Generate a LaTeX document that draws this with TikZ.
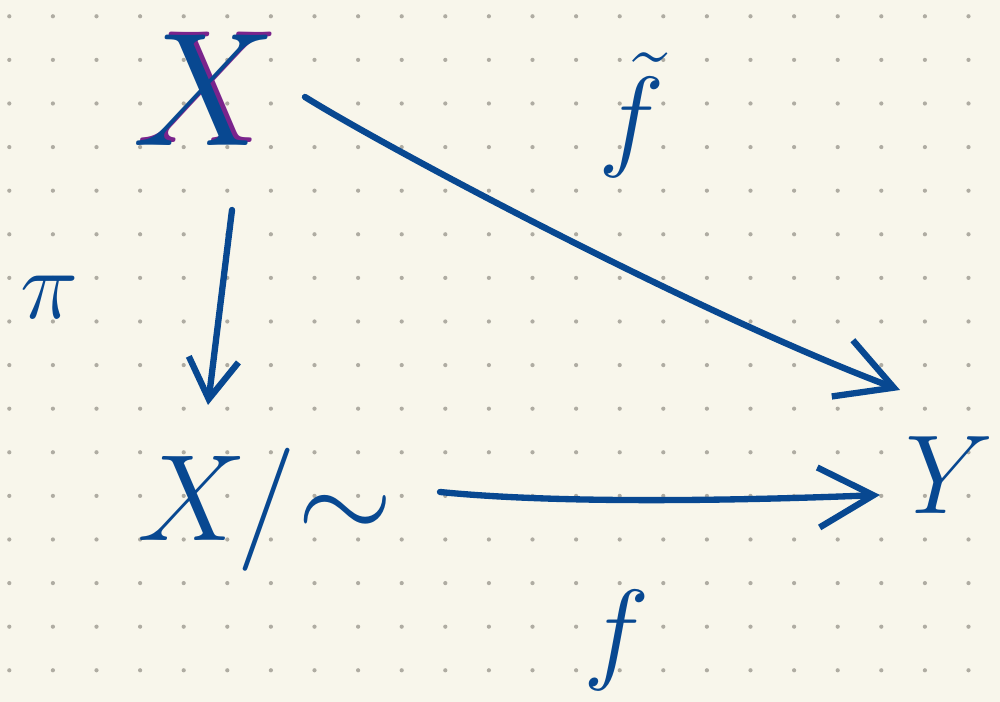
\RequirePackage{fix-cm}
\documentclass[tikz,border=0pt]{standalone}
\usepackage{amsmath}
\usepackage{xcolor}
\definecolor{paper}{RGB}{248, 246, 235}
\definecolor{gridDot}{RGB}{175, 172, 162}
\definecolor{ink}{RGB}{8, 72, 145}
\definecolor{inkPurple}{RGB}{122, 36, 140}
\usetikzlibrary{arrows.meta, positioning}

\begin{document}
\begin{tikzpicture}[
  obj/.style={text=ink, inner sep=0pt, font=\fontsize{92}{92}\selectfont},
  lbl/.style={text=ink, inner sep=0pt, font=\fontsize{64}{64}\selectfont},
  arr/.style={draw=ink, line width=3.6pt, line cap=round, line join=round,
              -{Straight Barb[length=1.1cm, width=1.2cm, line width=3.6pt]}},
  griddot/.style={fill=gridDot, draw=none}]

  % ---- Paper ----
  \fill[paper] (0,0) rectangle (20,14.04);
  \useasboundingbox (0,0) rectangle (20,14.04);
  \foreach \i in {0,...,22}
    \foreach \j in {0,...,15}
      \fill[griddot] (0.186+0.872*\i, 13.714-0.872*\j) circle (0.042);

  % ---- Objects ----
  \node[obj, text=inkPurple] (Xshade) at (4.18,12.3) {$X$};
  \node[obj] (X)  at (4.1,12.24) {$X$};
  \node[obj, font=\fontsize{70}{70}\selectfont] (Xq) at (5.3,3.84) {$X/{\sim}$};
  \node[obj, font=\fontsize{64}{64}\selectfont] (Y)  at (19.0,4.54) {$Y$};

  % ---- Labels ----
  \node[lbl] (ftilde) at (12.64,11.74) {$\tilde{f}$};
  \node[lbl] (f)      at (12.34,1.24)  {$f$};
  \node[lbl, font=\fontsize{56}{56}\selectfont] (pi) at (1.0,8.1) {$\pi$};

  % ---- Arrows ----
  \draw[arr, -{Straight Barb[length=0.8cm, width=1.0cm, line width=3.6pt]}]
    ([shift={(0.54,-2.4)}]X.center) -- ([shift={(-1.14,2.1)}]Xq.center);
  \draw[arr] ([shift={(2.0,-0.14)}]X.center)
    .. controls +(1.6,-1.0) and +(-4.0,1.5) .. ([shift={(-1.0,1.7)}]Y.center);
  \draw[arr] ([shift={(3.5,0.36)}]Xq.center)
    .. controls +(2.5,-0.25) and +(-2.5,-0.1) .. ([shift={(-1.4,-0.4)}]Y.center);

\end{tikzpicture}
\end{document}
